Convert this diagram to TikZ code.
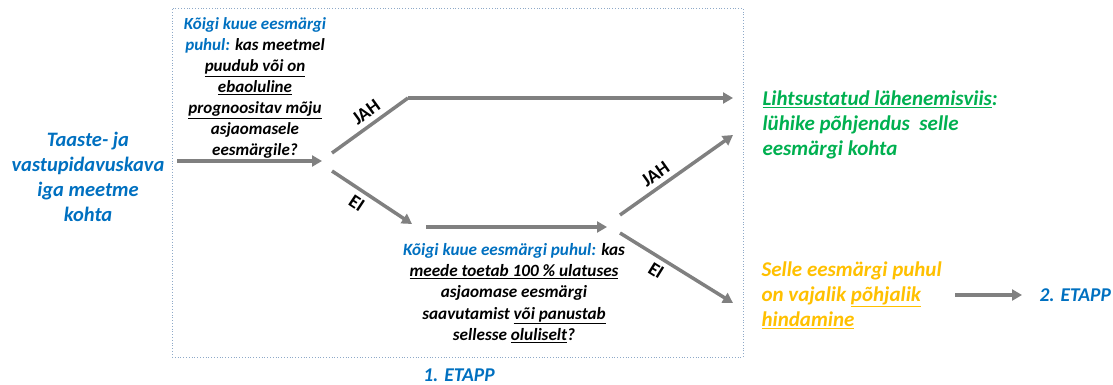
\documentclass[tikz,border=0pt]{standalone}
\usepackage{fontspec}
\setmainfont{Carlito}
\usetikzlibrary{positioning,arrows.meta}
\definecolor{etappblue}{HTML}{0070C0}
\definecolor{simplegreen}{HTML}{00B050}
\definecolor{deeporange}{HTML}{FFC000}
\definecolor{arrowgray}{HTML}{808080}
\definecolor{framegray}{HTML}{8EA9C8}
\tikzstyle{arrow} = [line width=3.5pt, draw=arrowgray, -{Triangle[length=10pt,width=11pt]}]
\tikzstyle{plainline} = [line width=3.5pt, draw=arrowgray]
\tikzstyle{question} = [align=center, font=\fontsize{17}{20.9}\selectfont\bfseries\itshape]
\tikzstyle{result} = [align=left, anchor=west, font=\fontsize{21}{25}\selectfont\bfseries\itshape]
\tikzstyle{answer} = [sloped, font=\fontsize{19}{20}\selectfont\bfseries, inner sep=5pt]
\begin{document}
\begin{tikzpicture}[x=1pt, y=-1pt]
			\useasboundingbox (0,0) rectangle (1113,385);
			\node (stage1box) [draw=framegray, dotted, thick, minimum width=571pt, minimum height=349pt] at (457.5,182.5) {};
			\node (etapp1) [question, text=etappblue, font=\fontsize{19.5}{22}\selectfont\bfseries\itshape] at (459,375) {1. ETAPP};
			\node (plan) [question, text=etappblue, font=\fontsize{20.5}{25}\selectfont\bfseries\itshape] at (88,177) {Taaste- ja\\vastupidavuskava\\iga meetme\\kohta};
			\node (firstq) [question] at (255,88) {\textcolor{etappblue}{Kõigi kuue eesmärgi}\\\textcolor{etappblue}{puhul:} kas meetmel\\\underline{puudub või on}\\\underline{ebaoluline}\\\underline{prognoositav mõju}\\asjaomasele\\eesmärgile?};
			\node (secondq) [question, font=\fontsize{17.2}{21.2}\selectfont\bfseries\itshape] at (514,293) {\textcolor{etappblue}{Kõigi kuue eesmärgi puhul:} kas\\\underline{meede toetab 100 \% ulatuses}\\asjaomase eesmärgi\\saavutamist \underline{või panustab}\\sellesse \underline{oluliselt}?};
			\node (simple) [result, text=simplegreen] at (759,125) {\underline{Lihtsustatud lähenemisviis}:\\lühike põhjendus\ \ selle\\eesmärgi kohta};
			\node (thorough) [result, text=deeporange] at (758,295) {Selle eesmärgi puhul\\on vajalik \underline{põhjalik}\\\underline{hindamine}};
			\node (etapp2) [result, text=etappblue, font=\fontsize{19.5}{22}\selectfont\bfseries\itshape] at (1036,295) {2. ETAPP};
			% connectors
			\coordinate (in) at (177,161);
			\coordinate (split1) at (322,161);
			\coordinate (yes1) at (332,153);
			\coordinate (bend1) at (408,98);
			\coordinate (no1) at (332,171);
			\coordinate (no1end) at (412,224);
			\coordinate (mid) at (426,227);
			\coordinate (split2) at (607,227);
			\coordinate (yes2) at (620,215);
			\coordinate (yes2end) at (733,135);
			\coordinate (no2) at (620,233);
			\coordinate (no2end) at (733,303);
			\coordinate (out) at (955,295);
			\coordinate (outend) at (1022,295);
			\draw [arrow] (in)--(split1);
			\draw [plainline] (yes1)--node[answer, above, pos=0.55]{JAH}(bend1);
			\draw [arrow] (bend1)--(bend1 -| yes2end);
			\draw [arrow] (no1)--node[answer, below, pos=0.4]{EI}(no1end);
			\draw [arrow] (mid)--(split2);
			\draw [arrow] (yes2)--node[answer, above, pos=0.38]{JAH}(yes2end);
			\draw [arrow] (no2)--node[answer, below, pos=0.38]{EI}(no2end);
			\draw [arrow] (out)--(outend);
		\end{tikzpicture}
\end{document}
